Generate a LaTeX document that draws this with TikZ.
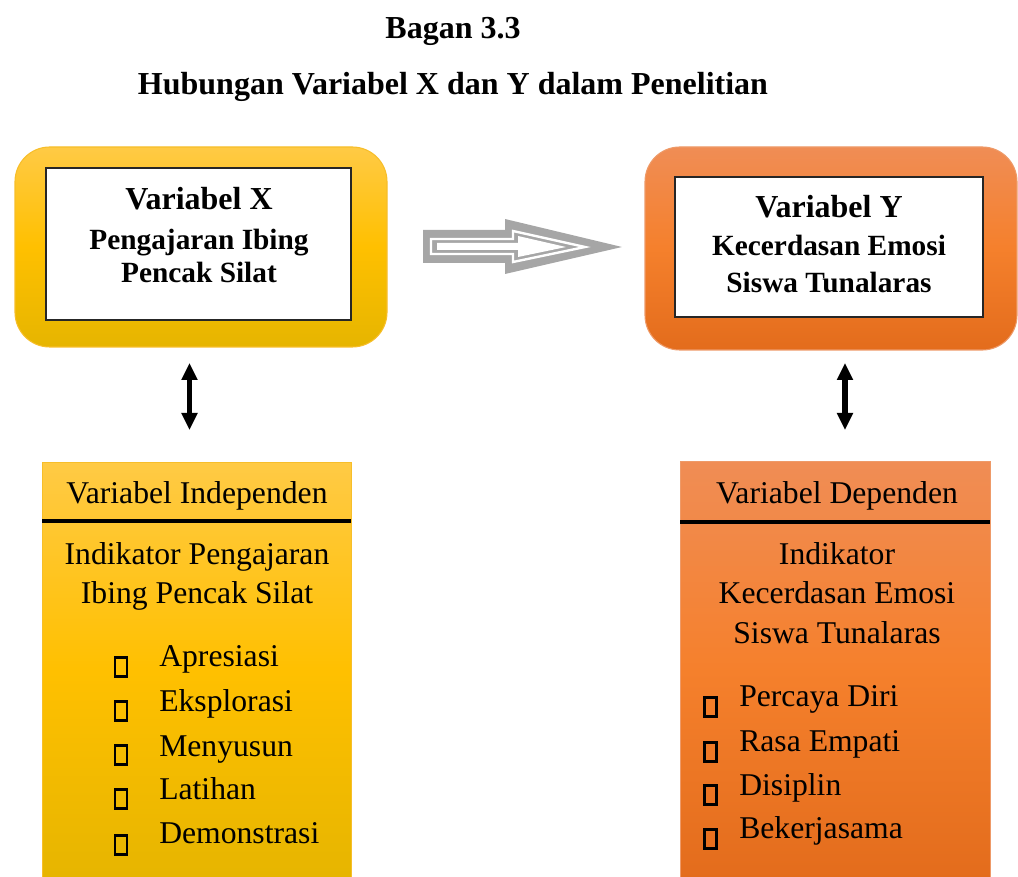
\documentclass[tikz,border=0pt]{standalone}
\usepackage{fontspec}
\setmainfont{Liberation Serif}
\usetikzlibrary{arrows.meta}
\definecolor{ytop}{HTML}{FFCA45}
\definecolor{ymid}{HTML}{FFC000}
\definecolor{ybot}{HTML}{E6B500}
\definecolor{yedge}{HTML}{F7BE2A}
\definecolor{otop}{HTML}{F08D55}
\definecolor{omid}{HTML}{F5802C}
\definecolor{obot}{HTML}{E36C1C}
\definecolor{oedge}{HTML}{EE9A68}
\definecolor{agray}{HTML}{A6A6A6}
\begin{document}
\begin{tikzpicture}[x=0.75pt,y=-0.75pt,
  yfill/.style={top color=ytop, bottom color=ybot, middle color=ymid},
  ofill/.style={top color=otop, bottom color=obot, middle color=omid},
  roundbox/.style={rounded corners=26pt, line width=0.8pt, inner sep=0pt},
  whitebox/.style={fill=white, draw=black!85, line width=0.9pt, inner sep=0pt},
  listbox/.style={line width=0.6pt, inner sep=0pt},
  t/.style={anchor=base, inner sep=0pt},
  tl/.style={anchor=base west, inner sep=0pt},
  ttl/.style={font=\fontsize{24}{28}\selectfont\bfseries},
  big/.style={font=\fontsize{24}{28}\selectfont\bfseries},
  med/.style={font=\fontsize{22}{26}\selectfont\bfseries},
  reg/.style={font=\fontsize{23.75}{28}\selectfont},
  bul/.style={draw, line width=1.9pt, inner sep=0pt, minimum width=9.3pt, minimum height=14pt},
  rule/.style={line width=3pt},
  dbl/.style={line width=3.9pt, {Triangle[width=11.5pt,length=12.75pt]}-{Triangle[width=11.5pt,length=12.75pt]}}
]
\useasboundingbox (0,0) rectangle (1018,877);

% titles
\node[t,ttl] (t1) at (453,39) {Bagan 3.3};
\node[t,ttl] (t2) at (453,95) {Hubungan Variabel X dan Y dalam Penelitian};

% top boxes
\node[roundbox,yfill,draw=yedge,minimum width=279pt,minimum height=150pt] (X) at (201,247) {};
\node[whitebox,minimum width=228.75pt,minimum height=114pt] (Xi) at (198.5,244) {};
\node[t,big] (x1) at (199,210) {Variabel X};
\node[t,med] (x2) at (199,250) {Pengajaran Ibing};
\node[t,med] (x3) at (199,283) {Pencak Silat};

\node[roundbox,ofill,draw=oedge,minimum width=279pt,minimum height=152.25pt] (Y) at (831,248.5) {};
\node[whitebox,minimum width=231pt,minimum height=105pt] (Yi) at (829,247) {};
\node[t,big] (y1) at (829,218) {Variabel Y};
\node[t,med] (y2) at (829,256) {Kecerdasan Emosi};
\node[t,med] (y3) at (829,293) {Siswa Tunalaras};

% big arrow
\coordinate (ba) at (423,246.5);
\fill[agray] (423,230) -- (505,230) -- (505,219) -- (622,247) -- (505,274) -- (505,263) -- (423,263) -- cycle;
\draw[white,line width=1.8pt,line join=miter] (431,239) -- (513,239) -- (513,231) -- (585,247) -- (513,262) -- (513,254) -- (431,254) -- cycle;
\fill[white] (437,243) -- (518,243) -- (518,236) -- (566,247) -- (518,257) -- (518,250) -- (437,250) -- cycle;

% vertical double arrows
\coordinate (la1) at (189.5,363);
\coordinate (la2) at (189.5,430);
\draw[dbl] (la1) -- (la2);
\coordinate (ra1) at (845,363);
\coordinate (ra2) at (845,430);
\draw[dbl] (ra1) -- (ra2);

% bottom left box
\node[listbox,yfill,draw=yedge,minimum width=231.75pt,minimum height=313.5pt] (L) at (196.5,671) {};
\draw[rule] (42,521) -- (351,521);
\node[t,reg] (lh) at (197,503) {Variabel Independen};
\node[t,reg] (l1) at (197,564) {Indikator Pengajaran};
\node[t,reg] (l2) at (197,603) {Ibing Pencak Silat};
\node[bul] (lb1) at (121,667) {};
\node[bul] (lb2) at (121,711) {};
\node[bul] (lb3) at (121,755) {};
\node[bul] (lb4) at (121,799) {};
\node[bul] (lb5) at (121,845) {};
\node[tl,reg] (li1) at (159,666) {Apresiasi};
\node[tl,reg] (li2) at (159,711) {Eksplorasi};
\node[tl,reg] (li3) at (159,756) {Menyusun};
\node[tl,reg] (li4) at (159,799) {Latihan};
\node[tl,reg] (li5) at (159,843) {Demonstrasi};

% bottom right box
\node[listbox,ofill,draw=oedge,minimum width=232.5pt,minimum height=314.25pt] (R) at (835,670.5) {};
\draw[rule] (680,522) -- (990,522);
\node[t,reg] (rh) at (837,503) {Variabel Dependen};
\node[t,reg] (r1) at (837,564) {Indikator};
\node[t,reg] (r2) at (837,603) {Kecerdasan Emosi};
\node[t,reg] (r3) at (837,643) {Siswa Tunalaras};
\node[bul] (rb1) at (710.5,707) {};
\node[bul] (rb2) at (710.5,752) {};
\node[bul] (rb3) at (710.5,795) {};
\node[bul] (rb4) at (710.5,839) {};
\node[tl,reg] (ri1) at (739,706) {Percaya Diri};
\node[tl,reg] (ri2) at (739,751) {Rasa Empati};
\node[tl,reg] (ri3) at (739,795) {Disiplin};
\node[tl,reg] (ri4) at (739,838) {Bekerjasama};
\end{tikzpicture}
\end{document}
